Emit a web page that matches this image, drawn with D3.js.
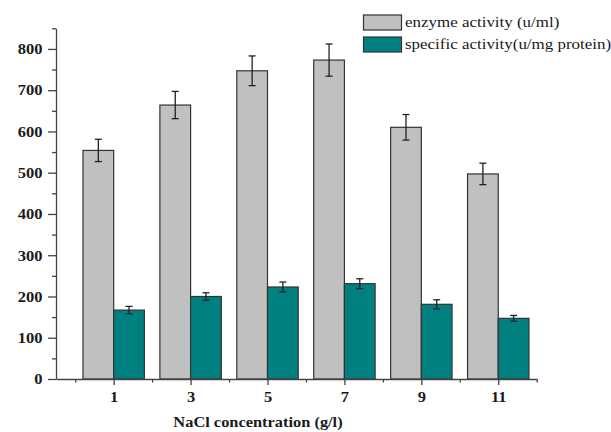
<!DOCTYPE html>
<html>
<head>
<meta charset="utf-8">
<script src="https://cdn.jsdelivr.net/npm/d3@7"></script>
<style>
  html, body { margin: 0; padding: 0; background: #fff; }
  svg { display: block; }
  text { font-family: "Liberation Serif", "Times New Roman", serif; fill: #1a1a1a; }
</style>
</head>
<body>
<svg id="chart" width="611" height="432"></svg>
<script>
// NaCl concentration (g/l) on the x axis
const categories = ["1", "3", "5", "7", "9", "11"];
// enzyme activity (u/ml) with standard deviation
const enzymeActivity = [554, 664, 747, 773, 610, 497];
const enzymeError = [27, 33, 36, 39, 31, 26];
// specific activity (u/mg protein) with standard deviation
const specificActivity = [167, 200, 223, 231, 181, 147];
const specificError = [9, 9, 12, 12, 11, 7];
const yTicks = [0, 100, 200, 300, 400, 500, 600, 700, 800];
const seriesNames = ["enzyme activity (u/ml)", "specific activity(u/mg protein)"];

const colors = ["#c0c0c0", "#008080"];
const stretch = 1.13; // horizontal stretch applied to all labels

const svg = d3.select("#chart");

// category i sits at position i+1; the axis runs from 0.25 to 6.5
const x = d3.scaleLinear().domain([0.25, 6.5]).range([56, 536.7]);
const y = d3.scaleLinear().domain([0, 850]).range([379, 28.3]);
const barW = 30.7;

const series = [
  { values: enzymeActivity, errors: enzymeError, offset: -barW, color: colors[0] },
  { values: specificActivity, errors: specificError, offset: 0, color: colors[1] }
];

// bars
series.forEach(s => {
  svg.append("g")
    .selectAll("rect")
    .data(s.values)
    .join("rect")
    .attr("x", (d, i) => x(i + 1) + s.offset)
    .attr("y", d => y(d))
    .attr("width", barW)
    .attr("height", d => y(0) - y(d))
    .attr("fill", s.color)
    .attr("stroke", "#333")
    .attr("stroke-width", 1.2);
});

// error bars
series.forEach(s => {
  const g = svg.append("g").attr("stroke", "#222").attr("stroke-width", 1.3).attr("fill", "none");
  s.values.forEach((v, i) => {
    const cx = x(i + 1) + s.offset + barW / 2;
    const top = y(v + s.errors[i]);
    const bot = y(v - s.errors[i]);
    g.append("line").attr("x1", cx).attr("x2", cx).attr("y1", top).attr("y2", bot);
    g.append("line").attr("x1", cx - 3.5).attr("x2", cx + 3.5).attr("y1", top).attr("y2", top);
    g.append("line").attr("x1", cx - 3.5).attr("x2", cx + 3.5).attr("y1", bot).attr("y2", bot);
  });
});

// y axis: minor ticks then major ticks with labels
const minorY = yTicks.map(t => t + 50);
svg.append("g")
  .attr("transform", "translate(56,0)")
  .call(d3.axisLeft(y).tickValues(minorY).tickSize(4).tickFormat(""))
  .call(g => g.select(".domain").remove());
const yAxis = svg.append("g")
  .attr("transform", "translate(56,0)")
  .call(d3.axisLeft(y).tickValues(yTicks).tickSize(8).tickSizeOuter(0).tickPadding(5));

// x axis
const minorX = d3.range(0.5, 7, 1);
svg.append("g")
  .attr("transform", "translate(0,379)")
  .call(d3.axisBottom(x).tickValues(minorX).tickSize(3.5).tickFormat(""))
  .call(g => g.select(".domain").remove());
const xAxis = svg.append("g")
  .attr("transform", "translate(0,379)")
  .call(d3.axisBottom(x).tickValues(d3.range(1, 7)).tickSize(6).tickSizeOuter(0)
    .tickFormat((d, i) => categories[i]));

svg.selectAll(".domain, .tick line").attr("stroke", "#444").attr("stroke-width", 1.3);

// tick labels: bold serif, stretched horizontally
yAxis.selectAll(".tick text")
  .attr("font-family", null).attr("font-size", null)
  .style("font-size", "14px").style("font-weight", "bold")
  .attr("x", null).attr("dy", null)
  .attr("text-anchor", "end")
  .attr("transform", `translate(-13.5,4.8) scale(${stretch + 0.05},1)`);
xAxis.selectAll(".tick text")
  .attr("font-family", null).attr("font-size", null)
  .style("font-size", "14px").style("font-weight", "bold")
  .attr("y", null).attr("dy", null)
  .attr("text-anchor", "middle")
  .attr("transform", `translate(0,23) scale(${stretch + 0.05},1)`);

// x axis title
svg.append("text")
  .attr("transform", `translate(258,427) scale(${stretch},1)`)
  .attr("text-anchor", "middle")
  .style("font-size", "14.5px").style("font-weight", "bold")
  .text("NaCl concentration (g/l)");

// legend
const legend = svg.append("g");
seriesNames.forEach((name, i) => {
  const ly = 15 + i * 22;
  legend.append("rect")
    .attr("x", 363.5).attr("y", ly)
    .attr("width", 38).attr("height", 15)
    .attr("fill", colors[i]).attr("stroke", "#333").attr("stroke-width", 1.2);
  legend.append("text")
    .attr("transform", `translate(405,${ly + 12}) scale(${stretch},1)`)
    .style("font-size", "15px")
    .text(name);
});
</script>
</body>
</html>
